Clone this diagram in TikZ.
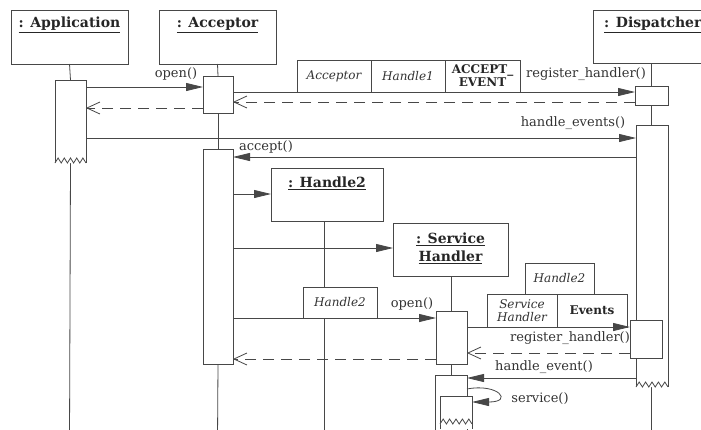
\documentclass[tikz,border=0pt]{standalone}
\usepackage{fontspec}
\setmainfont{DejaVu Serif}
\usetikzlibrary{arrows.meta}
\tikzset{
  ln/.style={draw=black!72, line width=0.8pt},
  objbox/.style={ln, fill=white, rectangle, inner sep=0pt, outer sep=0pt},
  actbox/.style={ln, fill=white, rectangle, inner sep=0pt, outer sep=0pt},
  actopen/.style={draw=none, fill=white, rectangle, inner sep=0pt, outer sep=0pt},
  tagcell/.style={ln, fill=white, rectangle, inner sep=0pt, outer sep=0pt, align=center},
  msg/.style={ln, -{Triangle[length=17pt,width=8pt]}},
  ret/.style={ln, dash pattern=on 11pt off 7pt, -{Straight Barb[length=13pt,width=12pt]}},
  lbl/.style={font=\fontsize{13}{14}\selectfont, inner sep=0pt, text=black!80},
  ttl/.style={font=\fontsize{14}{18}\selectfont\bfseries, inner sep=0pt, align=center, text=black!85},
  itag/.style={font=\fontsize{12}{12.5}\selectfont\itshape, text=black!80},
  btag/.style={font=\fontsize{12}{13}\selectfont\bfseries, text=black!85},
}
\newcommand\zigrow[3]{%
  \draw[ln, fill=white] (#1,#3) \foreach \k in {1,...,5} { -- ({#1+(#2-#1)*(\k-0.5)/5}, #3-5) -- ({#1+(#2-#1)*\k/5}, #3) };
}
\begin{document}
\begin{tikzpicture}[x=1pt, y=-1pt]
\useasboundingbox (0,0) rectangle (701,429);
\clip (0,0) rectangle (701,429);
\fill[white] (0,0) rectangle (701,429);

% object boxes
\node[objbox, minimum width=117pt, minimum height=54pt] (appbox) at (69.5,37) {};
\node[objbox, minimum width=117pt, minimum height=54pt] (accbox) at (217.5,37) {};
\node[objbox, minimum width=130pt, minimum height=53pt] (dispbox) at (658,36.5) {};
\node[objbox, minimum width=112pt, minimum height=53pt] (hbox) at (327,194.5) {};
\node[objbox, minimum width=115pt, minimum height=53pt] (shbox) at (450.5,249.5) {};

\node[ttl] (apptitle) at (69.5,25) {\underline{: Application}};
\node[ttl] (acctitle) at (217.5,25) {\underline{: Acceptor}};
\node[ttl, anchor=west] (disptitle) at (604,25) {\underline{: Dispatcher}};
\node[ttl] (htitle) at (327,183) {\underline{: Handle2}};
\node[ttl] (shtitle) at (450.5,248) {\underline{: Service}\\\underline{Handler}};

% activation nodes (placed first so lifelines can refer to them)
\node[actopen, minimum width=31pt, minimum height=83pt] (appact) at (70.5,121.5) {};
\node[actbox, minimum width=30pt, minimum height=37pt] (accact1) at (218,94.5) {};
\node[actbox, minimum width=30pt, minimum height=215pt] (accact2) at (218,256.5) {};
\node[actbox, minimum width=33pt, minimum height=19pt] (dispact1) at (651.5,95.5) {};
\node[actopen, minimum width=32pt, minimum height=262pt] (dispact2) at (652,256) {};
\node[actbox, minimum width=32pt, minimum height=38pt] (dispact3) at (646,339) {};
\node[actbox, minimum width=31pt, minimum height=53pt] (shact1) at (451.5,337.5) {};
\node[actbox, minimum width=32pt, minimum height=60pt] (shact2) at (451,405) {};
\node[actopen, minimum width=32pt, minimum height=33pt] (shnest) at (456,412.5) {};

% lifelines
\draw[ln] (appbox.south) -- (appact.north);
\draw[ln] (appact.south) -- (appbox.south |- 0,440);
\draw[ln] (accbox.south) -- (accact1.north);
\draw[ln] (accact1.south) -- (accact2.north);
\draw[ln] (accact2.south) -- (accbox.south |- 0,440);
\draw[ln] (dispbox.south -| dispact1.north) -- (dispact1.north);
\draw[ln] (dispact1.south) -- (dispact1.south |- dispact2.north);
\draw[ln] (dispact1.south |- dispact2.south) -- (dispact1.south |- 0,440);
\draw[ln] (hbox.south -| 324,0) -- (324,440);
\draw[ln] (shbox.south -| shact1.north) -- (shact1.north);
\draw[ln] (shact1.south) -- (shact1.south |- shact2.north);

% tags
\node[tagcell, itag, minimum width=74pt, minimum height=32pt] (tagacc) at (334,76) {Acceptor};
\node[tagcell, itag, minimum width=74pt, minimum height=32pt] (tagh1) at (408,76) {Handle1};
\node[tagcell, btag, minimum width=75pt, minimum height=32pt] (tagev) at (482.5,76) {ACCEPT\_\\EVENT};
\node[tagcell, itag, minimum width=74pt, minimum height=31pt] (tagh2a) at (340,302.5) {Handle2};
\node[tagcell, itag, minimum width=69pt, minimum height=31pt] (tagh2b) at (559.5,278.5) {Handle2};
\node[tagcell, itag, minimum width=70pt, minimum height=33pt] (tagsh) at (522,310.5) {Service\\Handler};
\node[tagcell, btag, minimum width=70pt, minimum height=33pt] (tagevs) at (592,310.5) {Events};

% messages
\draw[msg] (appact.east |- 0,87) -- (accact1.west |- 0,87);
\draw[msg] (accact1.east |- 0,92) -- (dispact1.west |- 0,92);
\draw[ret] (dispact1.west |- 0,102) -- (accact1.east |- 0,102);
\draw[ret] (accact1.west |- 0,108) -- (appact.east |- 0,108);
\draw[msg] (appact.east |- 0,138) -- (dispact2.west |- 0,138);
\draw[msg] (dispact2.west |- 0,157) -- (accact2.east |- 0,157);
\draw[msg] (accact2.east |- 0,194) -- (hbox.west |- 0,194);
\draw[msg] (accact2.east |- 0,248) -- (shbox.west |- 0,248);
\draw[msg] (accact2.east |- 0,318) -- (shact1.west |- 0,318);
\draw[msg] (shact1.east |- 0,327) -- (dispact3.west |- 0,327);
\draw[ret] (dispact3.west |- 0,353) -- (shact1.east |- 0,353);
\draw[ret] (shact1.west |- 0,359) -- (accact2.east |- 0,359);
\draw[msg] (dispact2.west |- 0,378) -- (shact2.east |- 0,378);

% activations with broken (zigzag) ends
\draw[ln] (appact.south west) -- (appact.north west) -- (appact.north east) -- (appact.south east);
\zigrow{55}{86}{163}
\draw[ln] (dispact2.south west) -- (dispact2.north west) -- (dispact2.north east) -- (dispact2.south east);
\zigrow{636}{668}{387}
\node[actbox, minimum width=32pt, minimum height=38pt] (dispact3b) at (646,339) {};
\fill[white] (shnest.south west) rectangle (shnest.north east);
\draw[ln] (shnest.south west) -- (shnest.north west) -- (shnest.north east) -- (shnest.south east);
\zigrow{440}{472}{424}

% self call
\draw[ln, -{Triangle[length=17pt,width=8pt]}] (shact2.east |- 0,389) .. controls (498,383) and (514,402) .. (shnest.east |- 0,402);

% labels
\node[lbl] (l1) at (176,74) {open()};
\node[lbl] (l2) at (586,74) {register\_handler()};
\node[lbl] (l3) at (573,123) {handle\_events()};
\node[lbl] (l4) at (266,147) {accept()};
\node[lbl] (l5) at (412,304) {open()};
\node[lbl] (l6) at (570,338) {register\_handler()};
\node[lbl] (l7) at (544,367) {handle\_event()};
\node[lbl] (l8) at (540,399) {service()};
\end{tikzpicture}
\end{document}
